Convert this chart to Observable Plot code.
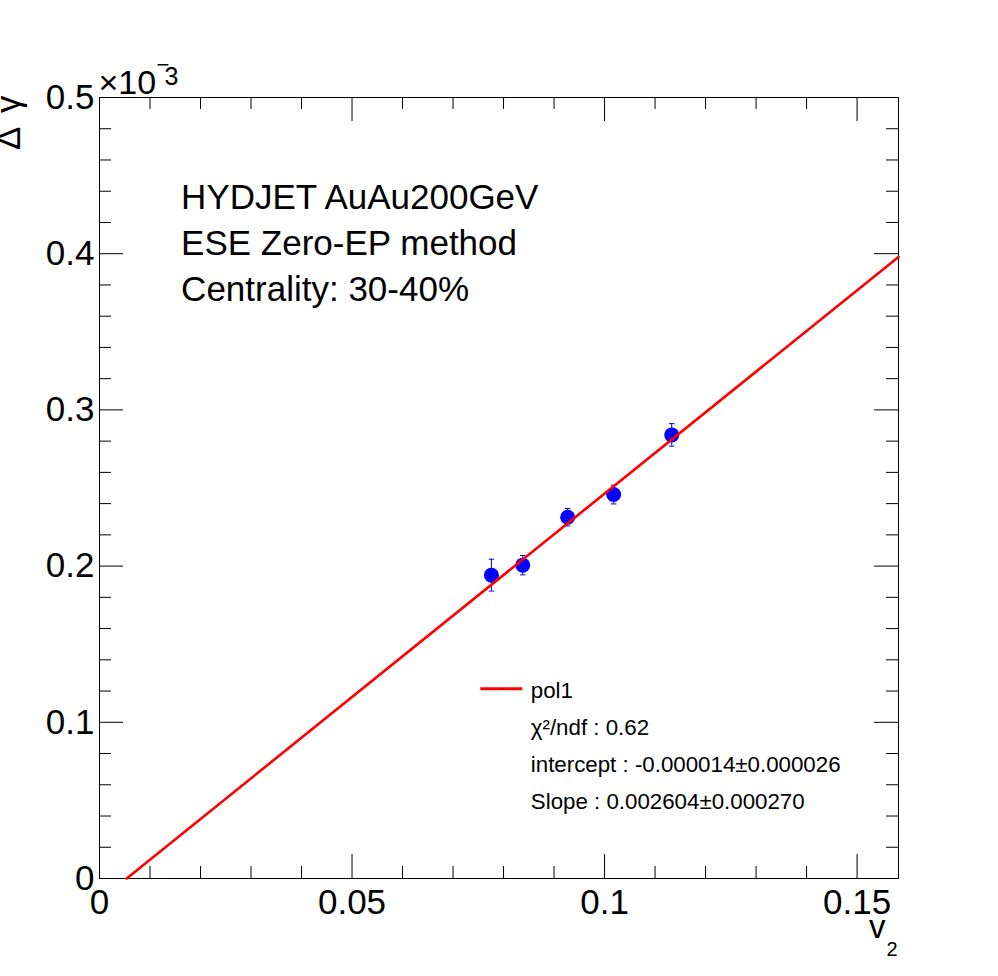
<!DOCTYPE html>
<html><head><meta charset="utf-8">
<script src="https://cdn.jsdelivr.net/npm/d3@7"></script>
<script src="https://cdn.jsdelivr.net/npm/@observablehq/plot@0.6"></script>
<style>html,body{margin:0;padding:0;background:#fff;} svg{display:block}</style>
</head><body><div id="chart"></div>
<script>
// Data (Δγ in units of 10^-3)
const v2 = [0.0776, 0.0838, 0.0927, 0.1018, 0.1133];
const deltaGamma = [0.1942, 0.2006, 0.2313, 0.2458, 0.2840];
const deltaGammaErr = [0.0102, 0.0062, 0.0056, 0.0060, 0.0072];
const fitIntercept = -0.014; // ×10^-3  (-0.000014)
const fitSlope = 2.604;      // ×10^-3  (0.002604)
const xDomain = [0, 0.1582];
const yDomain = [0, 0.5];
const xMajorTicks = [0, 0.05, 0.1, 0.15];
const xMinorTicks = [0.01, 0.02, 0.03, 0.04, 0.06, 0.07, 0.08, 0.09, 0.11, 0.12, 0.13, 0.14];
const yMajorTicks = [0, 0.1, 0.2, 0.3, 0.4, 0.5];
const yMinorTicks = [0.02, 0.04, 0.06, 0.08, 0.12, 0.14, 0.16, 0.18, 0.22, 0.24, 0.26, 0.28,
                     0.32, 0.34, 0.36, 0.38, 0.42, 0.44, 0.46, 0.48];
const infoLines = ["HYDJET AuAu200GeV", "ESE Zero-EP method", "Centrality: 30-40%"];
const legendLines = ["pol1", "χ²/ndf : 0.62", "intercept : -0.000014±0.000026", "Slope : 0.002604±0.000270"];
const xTitle = "v";
const xTitleSub = "2";
const yTitle = "Δ \u2006γ";
const expBase = "×10";
const expPower = "3";

const W = 998, H = 976, mL = 99, mR = 100, mT = 97, mB = 98;
const pH = H - mT - mB, pW = W - mL - mR;

const points = v2.map((x, i) => ({x, y: deltaGamma[i], e: deltaGammaErr[i]}));
const caps = points.flatMap(p => [{x: p.x, y: p.y + p.e}, {x: p.x, y: p.y - p.e}]);
const x0 = -fitIntercept / fitSlope;
const fitPts = [x0, xDomain[1]].map(x => ({x, y: fitIntercept + fitSlope * x}));

const hline = {draw(ctx, size) { const r = Math.sqrt(size / Math.PI); ctx.moveTo(-r, 0); ctx.lineTo(r, 0); }};
const ff = "'Liberation Sans', Arial, Helvetica, sans-serif";

const chart = Plot.plot({
  width: W, height: H,
  marginLeft: mL, marginRight: mR, marginTop: mT, marginBottom: mB,
  style: {fontFamily: ff, background: "#fff", color: "#000"},
  x: {domain: xDomain},
  y: {domain: yDomain},
  marks: [
    // ticks (inward, mirrored)
    Plot.tickX(xMajorTicks, {x: d => d, insetTop: pH - 24, stroke: "#000"}),
    Plot.tickX(xMajorTicks, {x: d => d, insetBottom: pH - 24, stroke: "#000"}),
    Plot.tickX(xMinorTicks, {x: d => d, insetTop: pH - 12, stroke: "#000"}),
    Plot.tickX(xMinorTicks, {x: d => d, insetBottom: pH - 12, stroke: "#000"}),
    Plot.tickY(yMajorTicks, {y: d => d, insetRight: pW - 24, stroke: "#000"}),
    Plot.tickY(yMajorTicks, {y: d => d, insetLeft: pW - 24, stroke: "#000"}),
    Plot.tickY(yMinorTicks, {y: d => d, insetRight: pW - 12, stroke: "#000"}),
    Plot.tickY(yMinorTicks, {y: d => d, insetLeft: pW - 12, stroke: "#000"}),
    Plot.frame({stroke: "#000", strokeWidth: 1}),
    Plot.axisX({ticks: xMajorTicks, tickSize: 0, tickPadding: 11, fontSize: 35, label: null, tickFormat: d => String(d)}),
    Plot.axisY({ticks: yMajorTicks, tickSize: 0, tickPadding: 5, fontSize: 35, label: null, tickFormat: d => String(d)}),
    // exponent
    Plot.text([expBase], {frameAnchor: "top-left", textAnchor: "start", lineAnchor: "bottom", dx: -1, dy: -4, fontSize: 34}),
    Plot.text(["−"], {frameAnchor: "top-left", textAnchor: "start", lineAnchor: "bottom", dx: 57, dy: -26, fontSize: 22}),
    Plot.text([expPower], {frameAnchor: "top-left", textAnchor: "start", lineAnchor: "bottom", dx: 65, dy: -13, fontSize: 25}),
    // axis titles
    Plot.text([yTitle], {frameAnchor: "top-left", rotate: -90, textAnchor: "end", lineAnchor: "bottom", dx: -80, dy: -2, fontSize: 35}),
    Plot.text([xTitle], {frameAnchor: "bottom-right", textAnchor: "end", lineAnchor: "bottom", dx: -13, dy: 59, fontSize: 33}),
    Plot.text([xTitleSub], {frameAnchor: "bottom-right", textAnchor: "end", lineAnchor: "bottom", dx: -1, dy: 77, fontSize: 20}),
    // data
    Plot.ruleX(points, {x: "x", y1: d => d.y - d.e, y2: d => d.y + d.e, stroke: "#0000ff", strokeWidth: 1}),
    Plot.dot(caps, {x: "x", y: "y", r: 2.7, symbol: hline, fill: "none", stroke: "#0000ff", strokeWidth: 1}),
    Plot.dot(points, {x: "x", y: "y", r: 7.5, fill: "#0000ff", stroke: "none"}),
    Plot.line(fitPts, {x: "x", y: "y", stroke: "#ff0000", strokeWidth: 2.6}),
    // annotation
    Plot.text([infoLines.join("\n")], {frameAnchor: "top-left", textAnchor: "start", lineAnchor: "bottom", lineHeight: 1.31, dx: 81.6, dy: 203, fontSize: 35}),
    // legend
    Plot.dot([0], {frameAnchor: "top-left", dx: 401.8, dy: 591.3, r: 21, symbol: hline, fill: "none", stroke: "#ff0000", strokeWidth: 3}),
    Plot.dot([0], {frameAnchor: "top-left", dx: 403, dy: 591.3, r: 0.6, fill: "#000"}),
    Plot.text([legendLines.join("\n")], {frameAnchor: "top-left", textAnchor: "start", lineAnchor: "bottom", lineHeight: 1.645, dx: 431.3, dy: 711, fontSize: 22.3})
  ]
});
document.getElementById("chart").appendChild(chart);
</script>
</body></html>
